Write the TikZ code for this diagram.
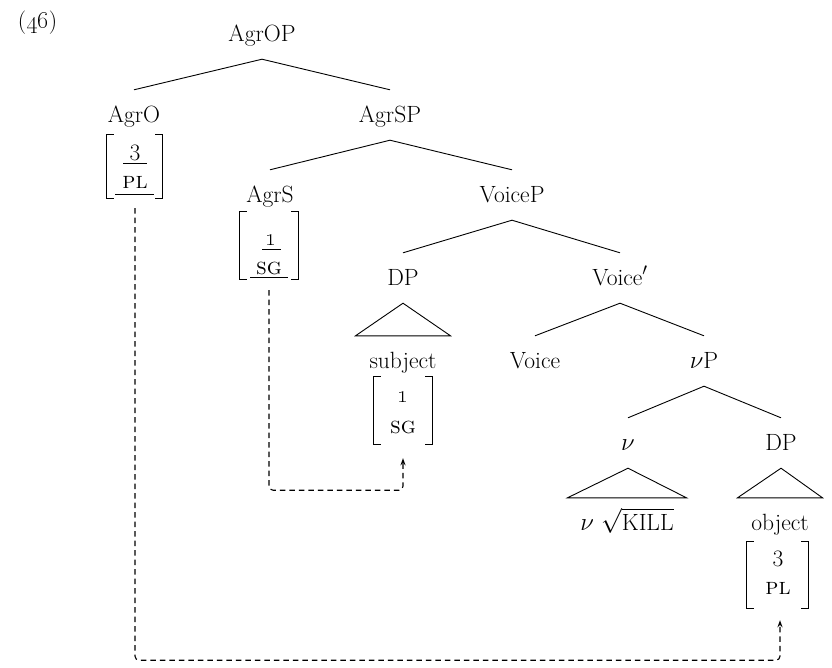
\documentclass[tikz,border=0pt]{standalone}
\usetikzlibrary{arrows.meta,calc}

% square brackets round a feature matrix node
\newcommand\featbrackets[1]{%
  \draw[brk] ($(#1.north west)+(7,0)$) -- (#1.north west) -- (#1.south west) -- ($(#1.south west)+(7,0)$);
  \draw[brk] ($(#1.north east)+(-7,0)$) -- (#1.north east) -- (#1.south east) -- ($(#1.south east)+(-7,0)$);
}

\begin{document}
\begin{tikzpicture}[x=1pt,y=-1pt,
  every node/.style={font=\fontsize{23.5}{28}\selectfont},
  cat/.style={inner xsep=1pt, inner ysep=0pt, text height=32pt, text depth=18pt, anchor=base},
  branch/.style={line width=0.9pt},
  brk/.style={line width=1.3pt},
  feat/.style={inner sep=0pt, anchor=center},
  featmat/.style={inner sep=0pt, minimum width=#1},
  uline/.style={line width=0.8pt},
  agree/.style={line width=1.1pt, dash pattern=on 5.5pt off 4pt, rounded corners=4pt,
                -{Stealth[length=7pt,width=5pt]}}
]
\useasboundingbox (0,0) rectangle (832,667);

% example number
\node (exnum) at (37.5,22.5) {(\oldstylenums{46})};

% tree labels
\node[cat] (agrop)    at (262,41)  {AgrOP};
\node[cat] (agro)     at (134,122) {AgrO};
\node[cat] (agrsp)    at (390,122) {AgrSP};
\node[cat] (agrs)     at (270,202) {AgrS};
\node[cat] (voicep)   at (512,202) {VoiceP};
\node[cat] (dps)      at (403,285) {DP};
\node[cat] (voicebar) at (620,285) {Voice$'$};
\node[cat] (subj)     at (403,368) {subject};
\node[cat] (voice)    at (535,368) {Voice};
\node[cat] (vp)       at (704,368) {$\nu$P};
\node[cat] (v)        at (628,450) {$\nu$};
\node[cat] (dpo)      at (781,450) {DP};
\node[cat] (vkill)    at (627,530) {$\nu\ \sqrt{\mbox{KILL}}$};
\node[cat] (obj)      at (780,530) {object};

% branches
\draw[branch] (agro.north) -- (agrop.south) -- (agrsp.north);
\draw[branch] (agrs.north) -- (agrsp.south) -- (voicep.north);
\draw[branch] (dps.north) -- (voicep.south) -- (voicebar.north);
\draw[branch] (voice.north) -- (voicebar.south) -- (vp.north);
\draw[branch] (v.north) -- (vp.south) -- (dpo.north);

% triangles
\draw[branch] (dps.south) -- ($(subj.north)+(-47.5,0)$) -- ($(subj.north)+(47.5,0)$) -- cycle;
\draw[branch] (v.south) -- ($(vkill.north)+(-59.5,0)$) -- ($(vkill.north)+(59.5,0)$) -- cycle;
\draw[branch] (dpo.south) -- ($(obj.north)+(-42.5,0)$) -- ($(obj.north)+(42.5,0)$) -- cycle;

% feature matrices
\node[featmat=55, minimum height=63] (mAgrO) at (134.5,166.5) {};
\node[featmat=58, minimum height=67] (mAgrS) at (269,245.5) {};
\node[featmat=58, minimum height=67] (mSubj) at (403,410.5) {};
\node[featmat=61, minimum height=66] (mObj)  at (777.5,575) {};
\featbrackets{mAgrO}
\featbrackets{mAgrS}
\featbrackets{mSubj}
\featbrackets{mObj}

\node[feat] (ao1) at (135,153) {3};
\node[feat] (ao2) at (135,182) {\textsc{pl}};
\draw[uline] (123,163) -- (147,163);
\draw[uline] (115,194) -- (154,194);

\node[feat] (as1) at (271,240) {\oldstylenums{1}};
\node[feat] (as2) at (269,268) {\textsc{sg}};
\draw[uline] (262,249) -- (281,249);
\draw[uline] (250,277) -- (288,277);

\node[feat] (su1) at (403,397) {\oldstylenums{1}};
\node[feat] (su2) at (403,427) {\textsc{sg}};

\node[feat] (ob1) at (778,559) {3};
\node[feat] (ob2) at (778,588) {\textsc{pl}};

% agreement paths
\coordinate (aoStart) at ($(mAgrO.south)+(0.5,10)$);
\coordinate (objTip)  at ($(mObj.south)+(2.5,12)$);
\coordinate (asStart) at ($(mAgrS.south)+(0,11)$);
\coordinate (subjTip) at ($(mSubj.south)+(0,14)$);
\draw[agree] (aoStart) -- ++(0,452) -| (objTip);
\draw[agree] (asStart) -- ++(0,200) -| (subjTip);
\end{tikzpicture}
\end{document}
